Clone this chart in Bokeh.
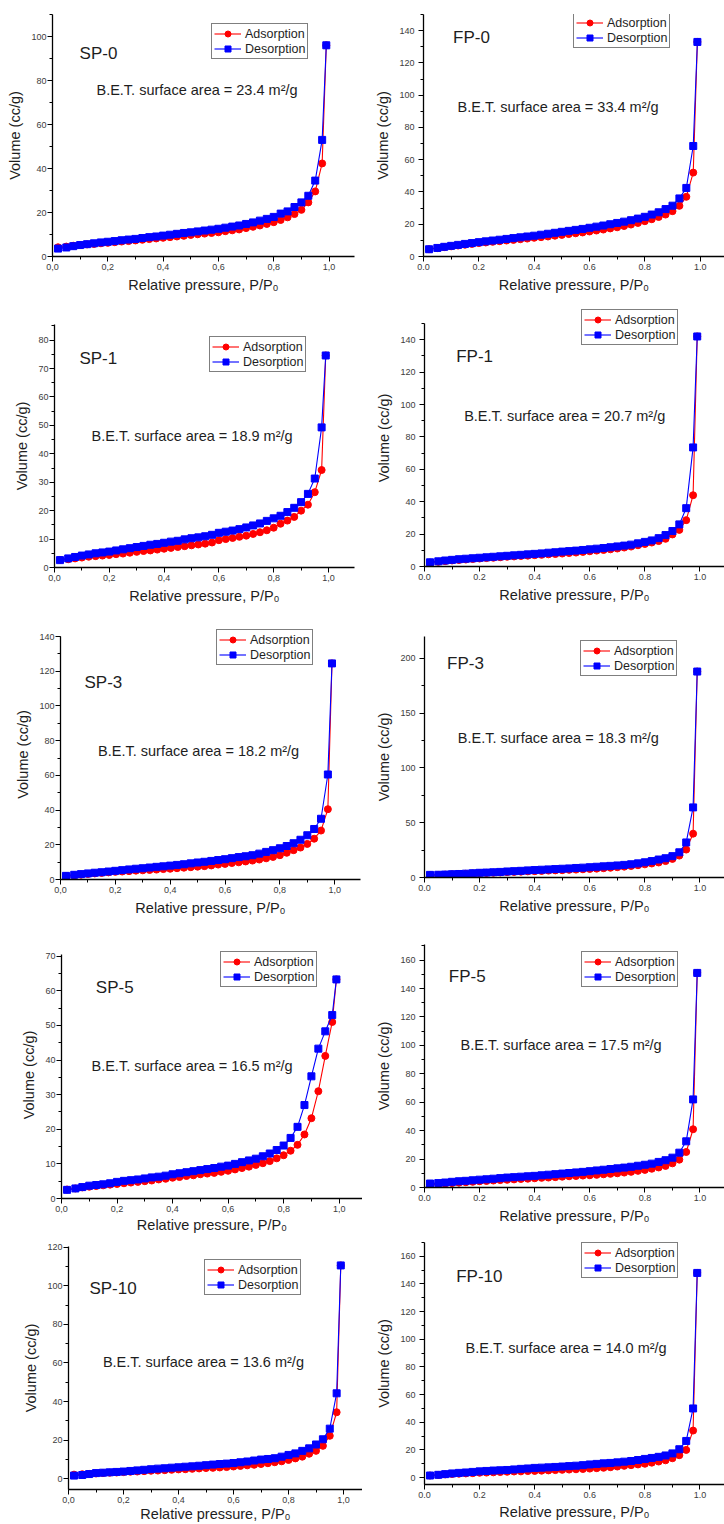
from bokeh.plotting import figure
from bokeh.layouts import column, row
from bokeh.models import FixedTicker, Legend, LegendItem, Label, Range1d
from bokeh.embed import file_html
from bokeh.resources import INLINE

FONT = "Liberation Sans"

# Relative pressure P/P0 of the measured points
P_REL = [0.02, 0.05, 0.075, 0.10, 0.125, 0.15, 0.175, 0.20, 0.225, 0.25,
         0.275, 0.30, 0.325, 0.35, 0.375, 0.40, 0.425, 0.45, 0.475, 0.50,
         0.525, 0.55, 0.575, 0.60, 0.625, 0.65, 0.675, 0.70, 0.725, 0.75,
         0.775, 0.80, 0.825, 0.85, 0.875, 0.90, 0.925, 0.95, 0.975, 0.99]

SP0_ADS = [4.2, 4.5, 4.9, 5.2, 5.5, 5.7, 6.0, 6.2, 6.5, 6.8, 7.0, 7.3, 7.6, 7.9, 8.2, 8.5, 8.8, 9.1, 9.4, 9.8,
           10.1, 10.4, 10.7, 11.0, 11.5, 11.9, 12.3, 12.9, 13.5, 14.1, 14.8, 15.6, 16.6, 17.8, 19.3, 21.2, 24.6, 29.6, 42.3, 96.0]
SP0_DES = [3.6, 4.1, 4.7, 5.2, 5.6, 6.0, 6.4, 6.7, 7.0, 7.4, 7.7, 8.0, 8.4, 8.8, 9.1, 9.5, 9.9, 10.3, 10.7, 11.0,
           11.4, 11.8, 12.2, 12.6, 13.1, 13.6, 14.1, 14.8, 15.5, 16.3, 17.1, 18.0, 19.5, 20.5, 22.5, 24.6, 27.6, 34.5, 53.0, 96.0]

FP0_ADS = [4.5, 5.2, 5.8, 6.3, 6.8, 7.3, 7.8, 8.3, 8.7, 9.1, 9.5, 9.9, 10.3, 10.7, 11.1, 11.6, 12.0, 12.4, 12.9, 13.4,
           13.9, 14.4, 14.9, 15.5, 16.1, 16.7, 17.4, 18.1, 18.9, 19.8, 20.8, 21.9, 23.1, 24.5, 26.0, 28.1, 31.4, 37.0, 52.0, 133.0]
FP0_DES = [4.5, 5.3, 6.0, 6.6, 7.2, 7.8, 8.3, 8.9, 9.4, 9.9, 10.4, 10.9, 11.4, 11.9, 12.4, 12.9, 13.5, 14.1, 14.7, 15.3,
           15.9, 16.5, 17.1, 17.8, 18.5, 19.2, 20.0, 20.8, 21.6, 22.5, 23.5, 24.6, 26.0, 27.4, 29.4, 31.5, 36.0, 42.5, 68.5, 133.0]

SP1_ADS = [2.7, 2.9, 3.2, 3.5, 3.8, 4.0, 4.2, 4.4, 4.7, 4.9, 5.2, 5.5, 5.8, 6.0, 6.3, 6.6, 6.9, 7.2, 7.5, 7.8,
           8.1, 8.4, 8.8, 9.6, 10.0, 10.4, 10.8, 11.2, 11.8, 12.4, 13.1, 14.0, 15.4, 16.5, 17.8, 20.0, 22.1, 26.5, 34.3, 74.6]
SP1_DES = [2.6, 3.2, 3.7, 4.2, 4.6, 5.0, 5.3, 5.6, 6.0, 6.4, 6.8, 7.2, 7.6, 8.0, 8.3, 8.7, 9.1, 9.4, 9.9, 10.3,
           10.6, 11.0, 11.5, 12.2, 12.6, 13.0, 13.5, 14.1, 14.8, 15.5, 16.4, 17.3, 18.2, 19.5, 21.0, 23.0, 25.9, 31.3, 49.3, 74.6]

FP1_ADS = [2.4, 2.9, 3.3, 3.7, 4.0, 4.3, 4.6, 4.9, 5.2, 5.4, 5.7, 6.0, 6.2, 6.5, 6.7, 7.0, 7.2, 7.5, 7.7, 8.0,
           8.3, 8.6, 9.0, 9.4, 9.8, 10.2, 10.6, 11.1, 11.7, 12.3, 13.1, 13.9, 14.8, 15.7, 17.1, 19.8, 22.6, 28.6, 44.0, 142.0]
FP1_DES = [2.6, 3.2, 3.7, 4.1, 4.5, 4.8, 5.1, 5.4, 5.7, 6.0, 6.3, 6.6, 6.9, 7.2, 7.5, 7.8, 8.1, 8.5, 8.8, 9.2,
           9.5, 9.8, 10.2, 10.6, 11.0, 11.4, 11.9, 12.4, 12.9, 13.5, 14.3, 15.2, 16.1, 17.5, 19.4, 21.9, 26.0, 36.0, 73.5, 142.0]

SP3_ADS = [2.0, 2.4, 2.8, 3.2, 3.5, 3.8, 4.1, 4.4, 4.6, 4.8, 5.1, 5.3, 5.5, 5.7, 6.0, 6.2, 6.5, 6.8, 7.1, 7.4,
           7.7, 8.1, 8.6, 9.0, 9.5, 9.9, 10.4, 10.9, 11.5, 12.2, 13.0, 14.0, 15.4, 16.9, 18.4, 20.5, 23.5, 28.2, 40.5, 124.5]
SP3_DES = [2.1, 2.7, 3.1, 3.5, 3.9, 4.2, 4.6, 5.0, 5.4, 5.8, 6.2, 6.5, 6.9, 7.3, 7.6, 8.0, 8.4, 8.8, 9.3, 9.8,
           10.2, 10.7, 11.2, 11.7, 12.3, 12.9, 13.4, 14.0, 14.9, 15.9, 16.9, 18.0, 19.3, 20.9, 22.9, 25.5, 29.1, 35.0, 60.5, 124.5]

FP3_ADS = [2.0, 2.3, 2.6, 2.9, 3.2, 3.4, 3.7, 4.0, 4.2, 4.4, 4.6, 4.9, 5.1, 5.3, 5.6, 5.8, 6.0, 6.3, 6.5, 6.7,
           7.0, 7.2, 7.5, 7.8, 8.1, 8.5, 8.9, 9.4, 9.9, 10.5, 11.2, 12.0, 12.8, 13.7, 15.0, 17.0, 20.0, 25.5, 40.0, 188.0]
FP3_DES = [2.4, 2.5, 2.7, 3.0, 3.2, 3.5, 3.9, 4.3, 4.5, 4.8, 5.1, 5.5, 5.8, 6.1, 6.5, 6.8, 7.1, 7.4, 7.7, 8.0,
           8.3, 8.7, 9.0, 9.4, 9.8, 10.2, 10.6, 11.0, 11.5, 12.1, 12.9, 13.9, 15.0, 16.4, 17.6, 19.5, 23.0, 32.0, 64.0, 188.0]

SP5_ADS = [2.6, 2.9, 3.2, 3.4, 3.6, 3.8, 4.0, 4.2, 4.4, 4.6, 4.8, 5.0, 5.2, 5.5, 5.7, 6.0, 6.2, 6.5, 6.7, 7.0,
           7.2, 7.4, 7.7, 8.0, 8.4, 8.8, 9.2, 9.7, 10.2, 10.8, 11.6, 12.5, 13.8, 15.5, 18.5, 23.2, 31.0, 41.2, 51.0, 63.3]
SP5_DES = [2.5, 2.9, 3.3, 3.7, 3.9, 4.1, 4.4, 4.8, 5.1, 5.3, 5.5, 5.8, 6.1, 6.3, 6.6, 7.0, 7.3, 7.6, 7.9, 8.2,
           8.5, 8.8, 9.2, 9.5, 10.0, 10.5, 11.0, 11.5, 12.2, 13.0, 14.0, 15.3, 17.5, 20.7, 27.0, 35.3, 43.3, 48.3, 53.0, 63.3]

FP5_ADS = [2.0, 2.4, 2.8, 3.1, 3.4, 3.7, 4.0, 4.4, 4.6, 4.9, 5.2, 5.4, 5.7, 6.0, 6.2, 6.5, 6.8, 7.0, 7.3, 7.6,
           7.9, 8.1, 8.4, 8.6, 8.9, 9.3, 9.6, 10.0, 10.5, 11.0, 11.7, 12.4, 13.2, 14.1, 15.2, 17.0, 19.6, 25.0, 41.0, 151.0]
FP5_DES = [2.8, 3.1, 3.5, 4.0, 4.4, 4.7, 5.1, 5.5, 5.8, 6.2, 6.6, 7.0, 7.3, 7.6, 7.9, 8.2, 8.6, 9.0, 9.4, 9.8,
           10.2, 10.6, 11.0, 11.5, 12.0, 12.5, 13.0, 13.5, 14.0, 14.6, 15.3, 16.0, 16.8, 18.0, 19.2, 21.0, 24.5, 32.5, 62.0, 151.0]

SP10_ADS = [2.2, 2.4, 2.6, 2.8, 3.0, 3.2, 3.3, 3.5, 3.7, 3.8, 4.0, 4.2, 4.3, 4.5, 4.7, 4.9, 5.0, 5.2, 5.4, 5.6,
            5.7, 5.9, 6.1, 6.4, 6.7, 7.0, 7.3, 7.7, 8.1, 8.6, 9.1, 9.8, 10.6, 11.5, 13.0, 14.5, 17.1, 22.3, 34.5, 110.5]
SP10_DES = [1.7, 2.0, 2.5, 3.0, 3.2, 3.4, 3.6, 3.8, 4.1, 4.4, 4.7, 5.0, 5.3, 5.5, 5.8, 6.0, 6.3, 6.5, 6.8, 7.1,
            7.4, 7.7, 7.9, 8.2, 8.6, 9.0, 9.5, 10.0, 10.3, 10.7, 11.5, 12.4, 13.2, 14.5, 15.8, 17.8, 20.5, 26.0, 44.3, 110.5]

FP10_ADS = [1.5, 1.9, 2.3, 2.6, 2.8, 3.0, 3.2, 3.5, 3.6, 3.8, 4.0, 4.2, 4.4, 4.5, 4.7, 4.8, 5.0, 5.2, 5.4, 5.6,
            5.8, 6.0, 6.2, 6.5, 6.8, 7.1, 7.5, 8.0, 8.5, 9.0, 9.5, 10.0, 10.8, 11.6, 12.5, 14.0, 16.2, 20.0, 34.0, 148.0]
FP10_DES = [1.5, 2.0, 2.5, 3.0, 3.4, 3.7, 4.1, 4.5, 4.8, 5.1, 5.3, 5.5, 5.9, 6.3, 6.6, 7.0, 7.2, 7.4, 7.7, 8.0,
            8.3, 8.6, 9.0, 9.5, 9.9, 10.3, 10.6, 11.0, 11.5, 12.0, 12.7, 13.5, 14.2, 15.0, 16.0, 17.5, 20.5, 26.5, 50.0, 148.0]

SAMPLES = ["SP-0", "FP-0", "SP-1", "FP-1", "SP-3", "FP-3", "SP-5", "FP-5", "SP-10", "FP-10"]
BET_AREAS = ["23.4", "33.4", "18.9", "20.7", "18.2", "18.3", "16.5", "17.5", "13.6", "14.0"]

X_TICKS = [0.0, 0.2, 0.4, 0.6, 0.8, 1.0]
X_LABELS_COMMA = ["0,0", "0,2", "0,4", "0,6", "0,8", "1,0"]
X_LABELS_DOT = ["0.0", "0.2", "0.4", "0.6", "0.8", "1.0"]

Y_TICKS_SP0 = [0, 20, 40, 60, 80, 100]
Y_TICKS_FP0 = [0, 20, 40, 60, 80, 100, 120, 140]
Y_TICKS_SP1 = [0, 10, 20, 30, 40, 50, 60, 70, 80]
Y_TICKS_FP1 = [0, 20, 40, 60, 80, 100, 120, 140]
Y_TICKS_SP3 = [0, 20, 40, 60, 80, 100, 120, 140]
Y_TICKS_FP3 = [0, 50, 100, 150, 200]
Y_TICKS_SP5 = [0, 10, 20, 30, 40, 50, 60, 70]
Y_TICKS_FP5 = [0, 20, 40, 60, 80, 100, 120, 140, 160]
Y_TICKS_SP10 = [0, 20, 40, 60, 80, 100, 120]
Y_TICKS_FP10 = [0, 20, 40, 60, 80, 100, 120, 140, 160]

DATA = [
    (SP0_ADS, SP0_DES, Y_TICKS_SP0), (FP0_ADS, FP0_DES, Y_TICKS_FP0),
    (SP1_ADS, SP1_DES, Y_TICKS_SP1), (FP1_ADS, FP1_DES, Y_TICKS_FP1),
    (SP3_ADS, SP3_DES, Y_TICKS_SP3), (FP3_ADS, FP3_DES, Y_TICKS_FP3),
    (SP5_ADS, SP5_DES, Y_TICKS_SP5), (FP5_ADS, FP5_DES, Y_TICKS_FP5),
    (SP10_ADS, SP10_DES, Y_TICKS_SP10), (FP10_ADS, FP10_DES, Y_TICKS_FP10),
]

# layout / style per panel (pixels and axis extents)
# ext: extra pixels of plot area above the axis end, so that a legend
# that sits above the axis top is not clipped (axis itself is bounded)
GEOM = [
    dict(left=52, fw=302, xe=1.092, top=14, fh=242, h=305, y0=0, y1=110, ext=0, ldx=159, ldy=11, nxy=(0.098, 92.3), bxy=(0.159, 75.5), xls=4),
    dict(left=61, fw=301, xe=1.088, top=14, fh=242, h=305, y0=0, y1=150, ext=0, ldx=150, ldy=0, nxy=(0.107, 136), bxy=(0.123, 92.6), xls=4),
    dict(left=54, fw=300, xe=1.095, top=19, fh=243, h=307, y0=0, y1=85.5, ext=0, ldx=155, ldy=14, nxy=(0.091, 73.6), bxy=(0.135, 46.1), xls=4),
    dict(left=62, fw=300, xe=1.089, top=18, fh=243, h=307, y0=0, y1=150, ext=14, ldx=157, ldy=-12, nxy=(0.115, 129.7), bxy=(0.144, 93), xls=4),
    dict(left=60, fw=300, xe=1.094, top=24, fh=243, h=310, y0=0, y1=140, ext=7, ldx=156, ldy=-5, nxy=(0.0875, 113.7), bxy=(0.137, 73.9), xls=4),
    dict(left=62, fw=300, xe=1.089, top=24, fh=241, h=310, y0=0, y1=220, ext=0, ldx=156, ldy=6, nxy=(0.082, 195.4), bxy=(0.121, 126.9), xls=4),
    dict(left=61, fw=301, xe=1.084, top=32, fh=244, h=314, y0=0, y1=70.5, ext=3, ldx=159, ldy=-1, nxy=(0.1235, 60.9), bxy=(0.108, 38.4), xls=2),
    dict(left=62, fw=300, xe=1.089, top=22, fh=243, h=314, y0=0, y1=171, ext=0, ldx=157, ldy=9, nxy=(0.088, 148.7), bxy=(0.131, 100), xls=4),
    dict(left=68, fw=294, xe=1.069, top=10, fh=243, h=288, y0=-5.5, y1=120.3, ext=0, ldx=136, ldy=15, nxy=(0.076, 98.7), bxy=(0.125, 60.4), xls=0),
    dict(left=62, fw=300, xe=1.089, top=6, fh=242, h=288, y0=-5, y1=170, ext=0, ldx=157, ldy=2, nxy=(0.115, 145.6), bxy=(0.149, 93.6), xls=3),
]

TEXT = "#1e1e1e"
TICK_TEXT = "#3c3c3c"


def make_panel(i):
    ads, des, yt = DATA[i]
    g = GEOM[i]
    name = SAMPLES[i]
    left_col = (i % 2 == 0)
    ext = g["ext"]
    top = g["top"] - ext
    fh = g["fh"] + ext
    y_top = g["y1"] + ext * (g["y1"] - g["y0"]) / g["fh"]
    p = figure(width=362, height=g["h"], x_range=Range1d(0, g["xe"]), y_range=Range1d(g["y0"], y_top),
               output_backend="svg", toolbar_location=None, title=None,
               min_border_left=g["left"], min_border_right=362 - g["left"] - g["fw"],
               min_border_top=top, min_border_bottom=g["h"] - top - fh)
    p.outline_line_color = None
    p.background_fill_color = "white"
    p.border_fill_color = "white"
    p.xgrid.visible = False
    p.ygrid.visible = False

    ystep = yt[1] - yt[0]
    yminor = []
    v = yt[0] - ystep
    while v <= g["y1"] + 1e-9:
        if v >= g["y0"] - 1e-9:
            yminor.append(v)
        v += ystep / 2.0
    xminor = [k / 10.0 for k in range(0, 11)]

    p.xaxis.ticker = FixedTicker(ticks=X_TICKS, minor_ticks=xminor)
    p.yaxis.ticker = FixedTicker(ticks=yt, minor_ticks=yminor)
    p.yaxis.bounds = (g["y0"], g["y1"])
    labels = X_LABELS_COMMA if name.startswith("SP") else X_LABELS_DOT
    p.xaxis.major_label_overrides = {t: s for t, s in zip(X_TICKS, labels)}

    for ax in (p.xaxis[0], p.yaxis[0]):
        ax.axis_line_color = "black"
        ax.axis_line_width = 1.3
        ax.major_tick_line_color = "black"
        ax.minor_tick_line_color = "black"
        ax.major_tick_in = 0
        ax.major_tick_out = 5
        ax.minor_tick_in = 0
        ax.minor_tick_out = 3
        ax.major_label_text_font = FONT
        ax.major_label_text_font_size = "9px"
        ax.major_label_text_color = TICK_TEXT
        ax.axis_label_text_font = FONT
        ax.axis_label_text_font_size = "14.5px"
        ax.axis_label_text_font_style = "normal"
        ax.axis_label_text_color = TEXT
    p.xaxis.axis_label = "Relative pressure, P/P\u2080"
    p.yaxis.axis_label = "Volume (cc/g)"
    p.xaxis.major_label_standoff = 2
    p.xaxis.axis_label_standoff = g["xls"]
    p.yaxis.major_label_standoff = 1 if left_col else 4
    p.yaxis.axis_label_standoff = 5

    la = p.line(P_REL, ads, line_color="#ff0000", line_width=1.1)
    sa = p.scatter(P_REL, ads, marker="circle", size=7, fill_color="#ff0000", line_color="#ff0000")
    ld = p.line(P_REL, des, line_color="#0000ff", line_width=1.1)
    sd = p.scatter(P_REL, des, marker="square", size=7, fill_color="#0000ff", line_color="#0000ff")

    leg_h = 34
    legend = Legend(items=[LegendItem(label="Adsorption", renderers=[la, sa]),
                           LegendItem(label="Desorption", renderers=[ld, sd])],
                    location=(g["ldx"], fh - (g["ldy"] + ext) - leg_h),
                    padding=2, spacing=0, margin=0, glyph_height=15, label_height=15,
                    glyph_width=27, label_standoff=4,
                    label_text_font=FONT, label_text_font_size="12.5px", label_text_color=TEXT,
                    border_line_color="black", border_line_width=1.5, background_fill_color="white",
                    background_fill_alpha=1.0)
    p.add_layout(legend)

    p.add_layout(Label(x=g["nxy"][0], y=g["nxy"][1], text=name, text_font=FONT, text_font_size="17px",
                       text_color=TEXT, text_baseline="middle", text_align="left"))
    p.add_layout(Label(x=g["bxy"][0], y=g["bxy"][1], text="B.E.T. surface area = " + BET_AREAS[i] + " m\u00b2/g",
                       text_font=FONT, text_font_size="14.5px", text_color=TEXT,
                       text_baseline="middle", text_align="left"))
    return p


panels = [make_panel(i) for i in range(10)]
# each figure is wrapped in its own column so that the two plots of a row
# keep their own (different) frame offsets
layout = column(*[row(column(panels[2 * r]), column(panels[2 * r + 1])) for r in range(5)])

open("out.html", "w").write(file_html(layout, INLINE))
